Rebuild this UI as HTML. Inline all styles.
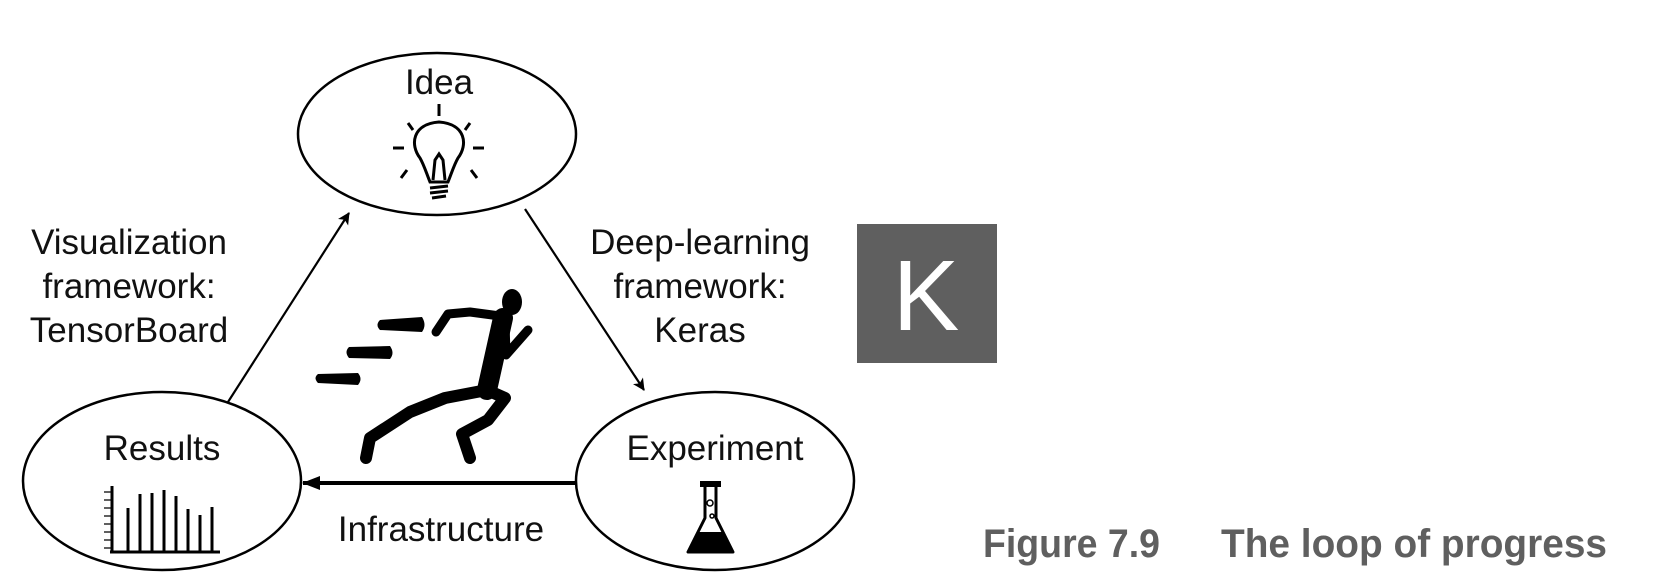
<!DOCTYPE html>
<html><head><meta charset="utf-8"><style>
html,body{margin:0;padding:0;background:#fff;}
svg{display:block;}
text{font-family:"Liberation Sans",Arial,sans-serif;fill:#111;}
</style></head><body>
<svg width="1658" height="588" viewBox="0 0 1658 588" xmlns="http://www.w3.org/2000/svg">
<defs>
<marker id="ah" markerWidth="12" markerHeight="12" refX="11" refY="6" orient="auto" markerUnits="userSpaceOnUse"><path d="M0,0 L12,6 L0,12 L3,6 z" fill="#000"/></marker>
<marker id="ah2" markerWidth="18" markerHeight="14" refX="17" refY="7" orient="auto" markerUnits="userSpaceOnUse"><path d="M0,0 L18,7 L0,14 z" fill="#000"/></marker>
</defs>
<g fill="none" stroke="#000" stroke-width="2.5">
<ellipse cx="437" cy="134" rx="139" ry="81"/>
<ellipse cx="162" cy="481" rx="139" ry="89"/>
<ellipse cx="715" cy="481" rx="139" ry="89"/>
</g>
<line x1="228" y1="402" x2="349" y2="213" stroke="#000" stroke-width="2.2" marker-end="url(#ah)"/>
<line x1="525" y1="209" x2="644" y2="390" stroke="#000" stroke-width="2.2" marker-end="url(#ah)"/>
<line x1="576" y1="483" x2="303" y2="483" stroke="#000" stroke-width="4" marker-end="url(#ah2)"/>
<g font-size="35" text-anchor="middle">
<text x="439" y="94">Idea</text>
<text x="162" y="460">Results</text>
<text x="715" y="460">Experiment</text>
<text x="441" y="541">Infrastructure</text>
<text x="129" y="254">Visualization</text>
<text x="129" y="298">framework:</text>
<text x="129" y="342">TensorBoard</text>
<text x="700" y="254">Deep-learning</text>
<text x="700" y="298">framework:</text>
<text x="700" y="342">Keras</text>
</g>
<!-- bulb -->
<g stroke="#000" stroke-width="3" fill="none">
<path d="M430,182 C426,172 424,165 420,158 C410,145 412,124 439,122 C466,124 468,145 458,158 C454,165 452,172 448,182 Z"/>
<path d="M433,180 L435,160 L439,154 L443,160 L445,180"/>
<line x1="430" y1="188" x2="448" y2="186"/><line x1="430" y1="193" x2="448" y2="191"/><line x1="432" y1="198" x2="446" y2="196"/>
<line x1="439" y1="104" x2="439" y2="116"/>
<line x1="408" y1="123" x2="413" y2="130"/><line x1="470" y1="123" x2="465" y2="130"/>
<line x1="393" y1="148" x2="404" y2="148"/><line x1="473" y1="148" x2="484" y2="148"/>
<line x1="401" y1="178" x2="407" y2="170"/><line x1="477" y1="178" x2="471" y2="170"/>
</g>
<!-- bar chart -->
<g stroke="#000" stroke-width="3">
<line x1="112" y1="486" x2="112" y2="552"/><line x1="110" y1="552" x2="220" y2="552"/>
<line x1="128" y1="552" x2="128" y2="508"/><line x1="140" y1="552" x2="140" y2="494"/>
<line x1="152" y1="552" x2="152" y2="493"/><line x1="164" y1="552" x2="164" y2="490"/>
<line x1="176" y1="552" x2="176" y2="496"/><line x1="188" y1="552" x2="188" y2="509"/>
<line x1="200" y1="552" x2="200" y2="515"/><line x1="212" y1="552" x2="212" y2="507"/>
</g>
<g stroke="#000" stroke-width="1.2"><path d="M104,492h8M104,500h8M104,508h8M104,516h8M104,524h8M104,532h8M104,540h8M104,548h8"/></g>
<!-- flask -->
<rect x="700" y="481" width="21" height="6" fill="#000"/>
<g stroke="#000" stroke-width="3" fill="none">
<path d="M705,487 L705,518 L688,552 L733,552 L716,518 L716,487" stroke-linejoin="round"/>
<circle cx="710" cy="503" r="3" stroke-width="1.5"/><circle cx="712" cy="516" r="2" stroke-width="1.5"/>
</g>
<path d="M697,532 L724,532 L733,552 L688,552 Z" fill="#000"/>
<!-- runner -->
<g fill="#000">
<path d="M380,320 L422,317 Q427,325 422,332 L380,330 Q375,325 380,320Z"/>
<path d="M349,347 L390,346 Q395,353 390,359 L349,358 Q344,352 349,347Z"/>
<path d="M318,374 L358,373 Q363,379 358,385 L318,383 Q313,378 318,374Z"/>
</g>
<g stroke="#000" stroke-linecap="round" stroke-linejoin="round" fill="none">
<path d="M503,318 L487,390" stroke-width="20"/>
<path d="M500,316 L470,312 L448,314 L436,332" stroke-width="9"/>
<path d="M505,322 L506,355 L528,330" stroke-width="9"/>
<path d="M487,390 L445,398 L410,412 L370,438 L366,458" stroke-width="12"/>
<path d="M487,390 L505,398 L488,420 L462,434 L470,458" stroke-width="12"/>
</g>
<ellipse cx="512" cy="302" rx="10" ry="13" fill="#000"/>
<!-- K box -->
<rect x="857" y="224" width="140" height="139" fill="#5f5f5f"/>
<text x="926" y="330" font-size="100" text-anchor="middle" style="fill:#fff">K</text>
<!-- caption -->
<g font-size="40" font-weight="bold" style="font-family:'Liberation Sans Narrow','Liberation Sans',sans-serif">
<text x="983" y="557" textLength="177" lengthAdjust="spacingAndGlyphs" style="fill:#5f5f5f">Figure 7.9</text>
<text x="1221" y="557" textLength="386" lengthAdjust="spacingAndGlyphs" style="fill:#5f5f5f">The loop of progress</text>
</g>
</svg>
</body></html>
